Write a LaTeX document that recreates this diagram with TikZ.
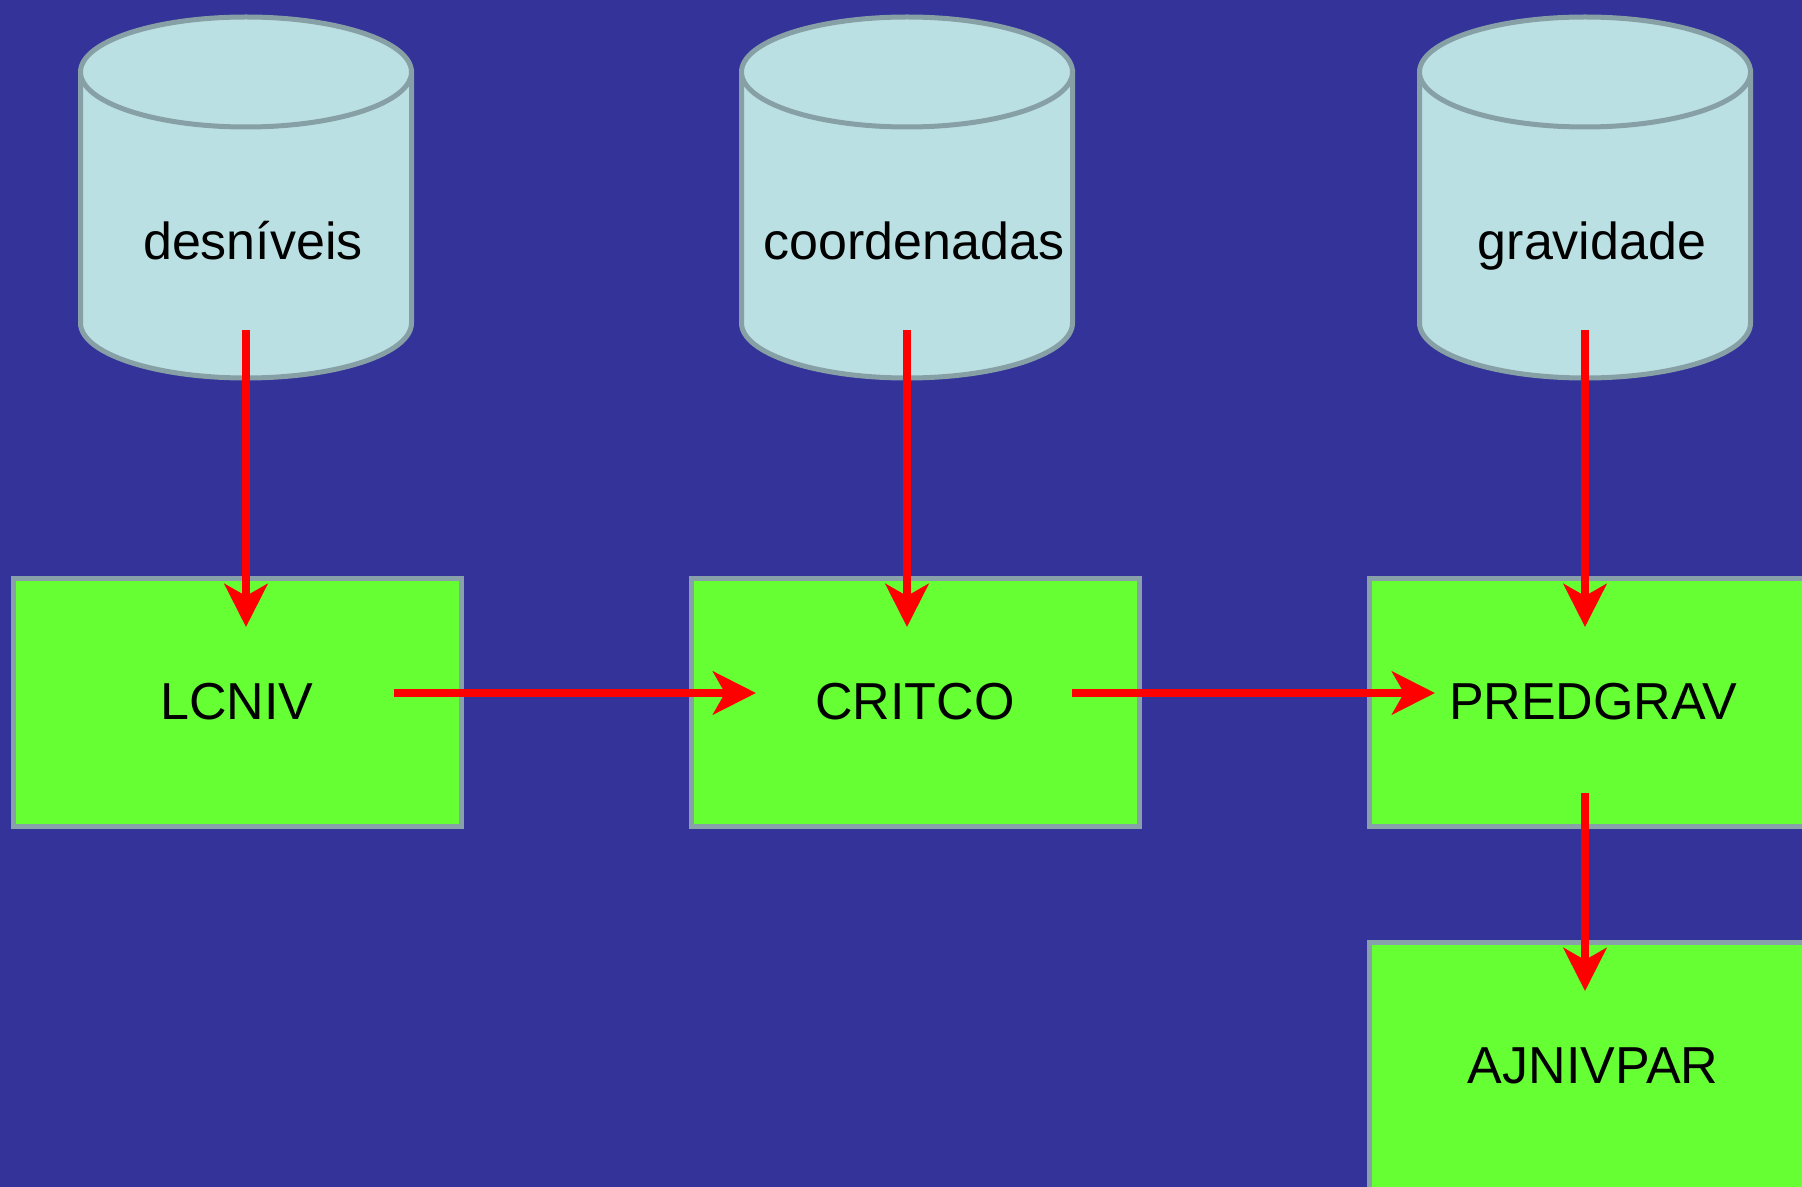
\documentclass[tikz,border=0pt]{standalone}
\usepackage{fontspec}
\setmainfont{Liberation Sans}
\usetikzlibrary{arrows.meta}
\definecolor{bgblue}{RGB}{51,51,153}
\definecolor{cylblue}{RGB}{186,224,227}
\definecolor{cylgray}{RGB}{135,160,165}
\definecolor{boxgreen}{RGB}{102,255,51}
\definecolor{boxgray}{RGB}{135,160,170}
\tikzset{
  cylpart/.style={fill=cylblue, draw=cylgray, line width=2.5pt},
  cyllabel/.style={anchor=base, inner sep=0pt, font=\fontsize{26pt}{31pt}\selectfont},
  procbox/.style={rectangle, fill=boxgreen, draw=boxgray, line width=2.5pt,
    minimum width=224pt, minimum height=124pt, inner sep=0pt,
    font=\fontsize{26pt}{31pt}\selectfont},
  flow/.style={draw=red, line width=4pt,
    -{Stealth[length=21.5pt, width=21.5pt, inset=6pt]}},
  pics/dbcyl/.style={code={
    \path[cylpart] (-165.5,72) -- (-165.5,323)
      arc[start angle=180, end angle=360, x radius=82.75pt, y radius=27.5pt]
      -- (165.5,72) -- cycle;
    \draw[cylpart] (0,72) ellipse[x radius=82.75pt, y radius=27.5pt];
  }}
}
\begin{document}
\begin{tikzpicture}[x=0.5pt, y=-0.5pt]
\useasboundingbox (0,0) rectangle (1802,1187);
\clip (0,0) rectangle (1802,1187);
\fill[bgblue] (0,0) rectangle (1802,1187);

% cylinders
\pic at (246,0) {dbcyl};
\pic at (907,0) {dbcyl};
\pic at (1585,0) {dbcyl};
\node[cyllabel] (desn) at (253,260) {desníveis};
\node[cyllabel] (coord) at (914,260) {coordenadas};
\node[cyllabel] (grav) at (1592,260) {gravidade};

% process boxes
\node[procbox] (lcniv) at (237,702) {LCNIV};
\node[procbox] (critco) at (915,702) {CRITCO};
\node[procbox] (predgrav) at (1593,702) {PREDGRAV};
\node[procbox] (ajniv) at (1593,1066) {AJNIVPAR};

% connector end points
\coordinate (d1) at (246,330);
\coordinate (d2) at (246,627);
\coordinate (c1) at (907,330);
\coordinate (c2) at (907,627);
\coordinate (g1) at (1585,330);
\coordinate (g2) at (1585,627);
\coordinate (l1) at (394,693);
\coordinate (l2) at (756,693);
\coordinate (k1) at (1072,693);
\coordinate (k2) at (1435,693);
\coordinate (p1) at (1585,793);
\coordinate (p2) at (1585,991);

\draw[flow] (d1) -- (d2);
\draw[flow] (c1) -- (c2);
\draw[flow] (g1) -- (g2);
\draw[flow] (l1) -- (l2);
\draw[flow] (k1) -- (k2);
\draw[flow] (p1) -- (p2);
\end{tikzpicture}
\end{document}
